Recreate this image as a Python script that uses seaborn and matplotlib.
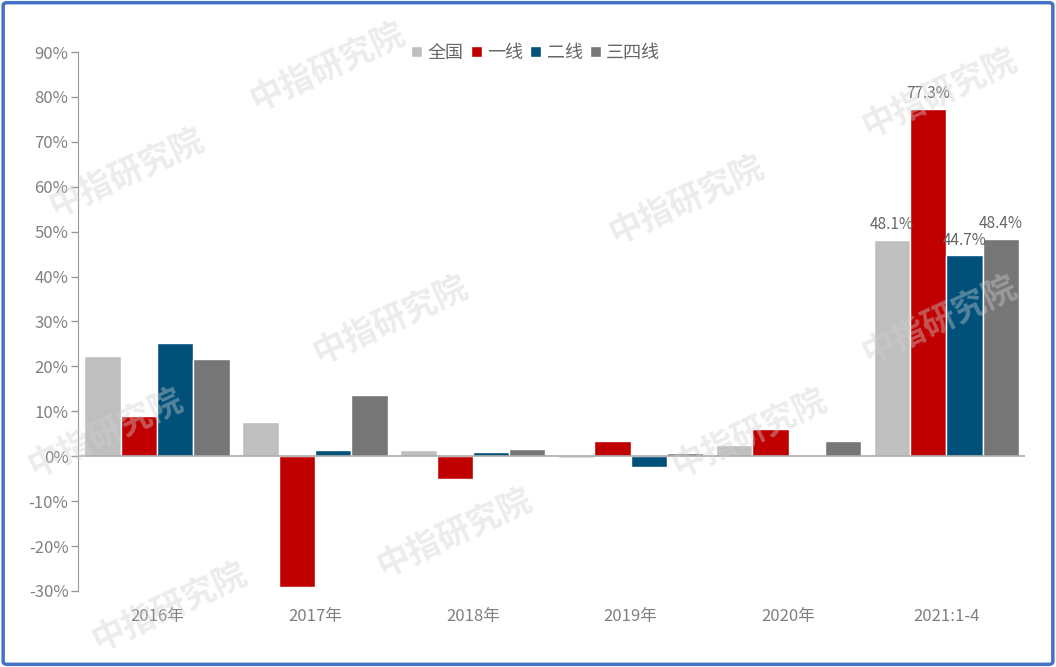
import matplotlib
matplotlib.use("Agg")
import matplotlib.pyplot as plt
import seaborn as sns
import pandas as pd
from matplotlib.patches import FancyBboxPatch

years = ["2016年", "2017年", "2018年", "2019年", "2020年", "2021:1-4"]
series = ["全国", "一线", "二线", "三四线"]
quanguo = [22.3, 7.6, 1.3, -0.4, 2.5, 48.1]
yixian = [8.9, -29.2, -5.1, 3.4, 6.0, 77.3]
erxian = [25.2, 1.3, 0.9, -2.4, 0.3, 44.7]
sansixian = [21.6, 13.6, 1.6, 0.7, 3.4, 48.4]
colors = ["#bfbfbf", "#c00000", "#00507a", "#767676"]
yticks = list(range(-30, 100, 10))

df = pd.DataFrame({
    "年份": years * 4,
    "系列": [s for s in series for _ in years],
    "值": quanguo + yixian + erxian + sansixian,
})

sns.set_style("white")
plt.rcParams["font.family"] = ["Liberation Sans Narrow", "Noto Sans CJK SC", "DejaVu Sans"]
grey = "#808080"

fig = plt.figure(figsize=(10.56, 6.67), dpi=100)
ax = fig.add_axes([0.074, 0.114, 0.897, 0.808])

sns.barplot(data=df, x="年份", y="值", hue="系列", palette=colors,
            width=0.92, gap=0, saturation=1, ax=ax, legend=True)

ax.set_ylim(-30, 90)
ax.set_xlim(-0.5, 5.5)
ax.set_yticks(yticks)
ax.set_yticklabels([f"{t}%" for t in yticks], color=grey, fontsize=12)
ax.tick_params(axis="y", length=5, color="#999999", width=1, pad=2, left=True)
ax.tick_params(axis="x", length=0, pad=12, labelsize=12, labelcolor=grey)
ax.set_xlabel("")
ax.set_ylabel("")
for s in ["top", "right", "bottom"]:
    ax.spines[s].set_visible(False)
ax.spines["left"].set_color("#999999")
ax.axhline(0, color="#aaaaaa", lw=1.2, zorder=3)

# 只标注最后一组
last = len(years) - 1
for container in ax.containers:
    bar = container.patches[last]
    h = bar.get_height()
    ax.text(bar.get_x() + bar.get_width() / 2, h + 1.5, f"{h:.1f}%",
            ha="center", va="bottom", fontsize=11, color="#666666")

leg = ax.legend(loc="upper center", bbox_to_anchor=(0.483, 1.045), ncol=4, frameon=False,
                handlelength=0.6, handleheight=0.6, handletextpad=0.3, columnspacing=0.4,
                prop={"family": ["Noto Sans CJK SC"], "size": 13})
for t in leg.get_texts():
    t.set_color("#666666")

# 水印
for (wx, wy) in [(0.31, 0.90), (0.12, 0.74), (0.37, 0.52), (0.65, 0.70), (0.71, 0.35),
                 (0.10, 0.35), (0.43, 0.20), (0.89, 0.52), (0.89, 0.86), (0.16, 0.09)]:
    fig.text(wx, wy, "中指研究院", fontsize=24, color="#d0d0d0", alpha=0.4,
             rotation=25, ha="center", va="center", family=["Noto Sans CJK SC"],
             fontweight="bold", zorder=0)

border = FancyBboxPatch((0.003, 0.004), 0.994, 0.992, boxstyle="round,pad=0,rounding_size=0.004",
                        transform=fig.transFigure, fill=False, edgecolor="#4472c4", lw=2.5)
fig.patches.append(border)

fig.savefig("out.png", dpi=100)
